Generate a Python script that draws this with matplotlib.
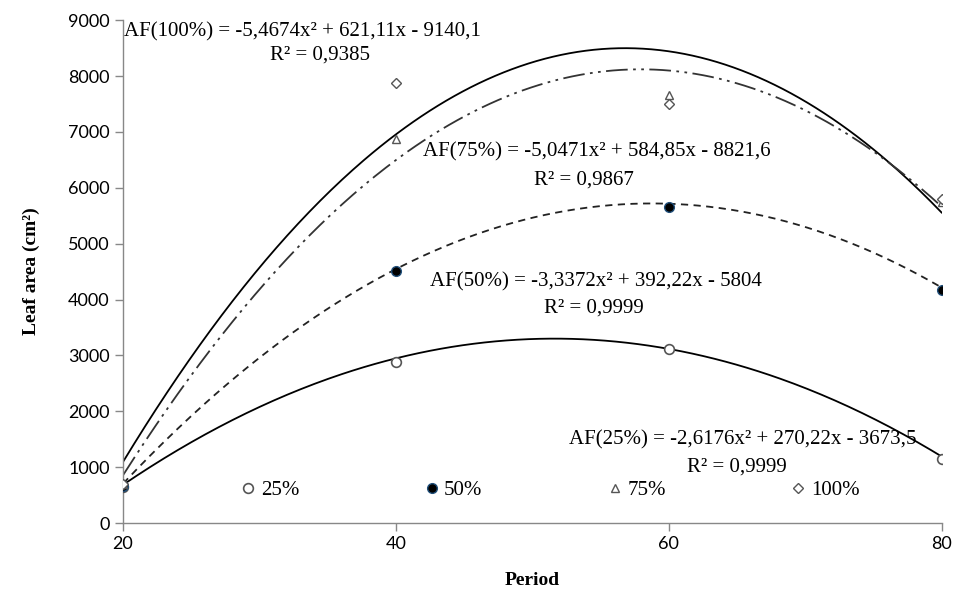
import numpy as np
import matplotlib
matplotlib.use("Agg")
import matplotlib.pyplot as plt

# Messzeitpunkte (Period)
period = [20, 40, 60, 80]

# Blattfläche je Bewässerungsstufe (cm²)
af_25 = [650, 2880, 3110, 1150]
af_50 = [660, 4520, 5660, 4170]
af_75 = [700, 6880, 7660, 5750]
af_100 = [700, 7870, 7500, 5800]

# Regressionskoeffizienten (a, b, c) aus den Gleichungen im Bild
coef_25 = [-2.6176, 270.22, -3673.5]
coef_50 = [-3.3372, 392.22, -5804]
coef_75 = [-5.0471, 584.85, -8821.6]
coef_100 = [-5.4674, 621.11, -9140.1]

gleichungen = [
    "AF(100%) = -5,4674x² + 621,11x - 9140,1",
    "AF(75%) = -5,0471x² + 584,85x - 8821,6",
    "AF(50%) = -3,3372x² + 392,22x - 5804",
    "AF(25%) = -2,6176x² + 270,22x - 3673,5",
]
r2 = ["R² = 0,9385", "R² = 0,9867", "R² = 0,9999", "R² = 0,9999"]

serif = "Liberation Serif"
sans = "Lato"

fig = plt.figure(figsize=(9.54, 5.95), dpi=100)
ax = fig.add_axes([0.129, 0.121, 0.858, 0.845])

xs = np.linspace(20, 80, 300)
ax.plot(xs, np.polyval(coef_100, xs), color="black", lw=1.3, zorder=2)
ax.plot(xs, np.polyval(coef_75, xs), color="#333333", lw=1.3,
        dashes=(12, 3, 1.5, 3, 1.5, 3), zorder=2)
ax.plot(xs, np.polyval(coef_50, xs), color="#222222", lw=1.3,
        dashes=(4, 3), zorder=2)
ax.plot(xs, np.polyval(coef_25, xs), color="black", lw=1.3, zorder=2)

grau = "#555555"
ax.plot(period, af_25, ls="none", marker="o", ms=7, mfc="white", mec=grau,
        mew=1.2, label="25%", zorder=3)
ax.plot(period, af_50, ls="none", marker="o", ms=7, mfc="black", mec="#1f4e79",
        mew=1.0, label="50%", zorder=3)
ax.plot(period, af_75, ls="none", marker="^", ms=6, mfc="white", mec=grau,
        mew=1.0, label="75%", zorder=3)
ax.plot(period, af_100, ls="none", marker="D", ms=5, mfc="white", mec=grau,
        mew=1.0, label="100%", zorder=3)

# Gleichungen und R²
fs = 15
ax.text(20.05, 8800, gleichungen[0], fontsize=fs, family=serif, va="center")
ax.text(34.4, 8370, r2[0], fontsize=fs, family=serif, va="center", ha="center")
ax.text(42.0, 6640, gleichungen[1], fontsize=fs, family=serif, va="center")
ax.text(53.8, 6140, r2[1], fontsize=fs, family=serif, va="center", ha="center")
ax.text(42.5, 4310, gleichungen[2], fontsize=fs, family=serif, va="center")
ax.text(54.5, 3840, r2[2], fontsize=fs, family=serif, va="center", ha="center")
ax.text(52.7, 1480, gleichungen[3], fontsize=fs, family=serif, va="center")
ax.text(65.0, 1000, r2[3], fontsize=fs, family=serif, va="center", ha="center")

ax.set_xlim(20, 80)
ax.set_ylim(0, 9000)
ax.set_xticks(period)
ax.set_yticks(range(0, 9001, 1000))
for lab in ax.get_xticklabels() + ax.get_yticklabels():
    lab.set_family(sans)
    lab.set_fontsize(13)

for s in ["top", "right"]:
    ax.spines[s].set_visible(False)
for s in ["left", "bottom"]:
    ax.spines[s].set_color("#888888")
    ax.spines[s].set_linewidth(1.0)
ax.tick_params(axis="both", direction="out", color="#888888", length=6, width=1.0)

ax.set_xlabel("Period", family=serif, fontsize=14, fontweight="bold", labelpad=14)
ax.set_ylabel("Leaf area (cm²)", family=serif, fontsize=14, fontweight="bold", labelpad=20)

leg = ax.legend(loc="center", ncol=4, frameon=False, mode="expand",
                bbox_to_anchor=(0.13, 0.035, 0.78, 0.06),
                prop={"family": serif, "size": 15},
                handletextpad=0.1, handlelength=1.0, borderaxespad=0)

fig.savefig("out.png", dpi=100)
